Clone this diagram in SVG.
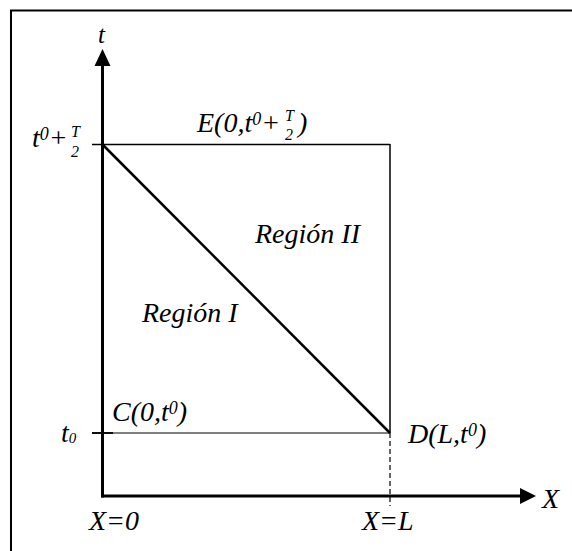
<svg xmlns="http://www.w3.org/2000/svg" width="572" height="551" viewBox="0 0 572 551">
<style>
text{font-family:"Liberation Serif","Times New Roman",serif;font-style:italic;fill:#000;font-size:28px}
.sm{font-size:18px}
.frac{font-size:16px}
line,path{stroke:#000;fill:none}
</style>
<rect x="0" y="0" width="572" height="551" fill="#fff"/>
<g id="frame"><path d="M11,551 V10.5 H572" stroke-width="2"/></g>
<g id="connectors">
<line x1="102.5" y1="497.5" x2="102.5" y2="64" stroke-width="3"/>
<polygon points="94.5,66 110.5,66 102.5,49" fill="#000"/>
<line x1="101" y1="496" x2="521" y2="496" stroke-width="3"/>
<polygon points="520,488 520,504 536,496" fill="#000"/>
<line x1="92" y1="144.5" x2="390" y2="144.5" stroke-width="1.5"/>
<line x1="390" y1="144" x2="390" y2="433" stroke-width="1.5"/>
<line x1="390" y1="433" x2="390" y2="506" stroke-width="1.2" stroke-dasharray="5,3"/>
<line x1="92" y1="433" x2="390" y2="433" stroke-width="1.2" stroke="#444"/>
<line x1="92" y1="433" x2="113" y2="433" stroke-width="1.8"/>
<line x1="102" y1="144" x2="390" y2="433" stroke-width="2.5"/>
</g>
<g id="label-t"><text x="98" y="43" style="font-size:25px">t</text></g>
<g id="label-tT"><text x="32" y="147">t<tspan class="sm" dy="-7">0</tspan><tspan dy="7">+</tspan></text><text class="frac" x="71" y="137">T</text><text class="frac" x="71" y="157">2</text></g>
<g id="label-E"><text x="197" y="132">E(0,t<tspan class="sm" dy="-7">0</tspan><tspan dy="7">+</tspan></text><text class="frac" x="285" y="121">T</text><text class="frac" x="285" y="140">2</text><text x="298" y="132">)</text></g>
<g id="label-r2"><text x="255" y="243">Región II</text></g>
<g id="label-r1"><text x="142" y="322">Región I</text></g>
<g id="label-C"><text x="112" y="421">C(0,t<tspan class="sm" dy="-7">0</tspan><tspan dy="7">)</tspan></text></g>
<g id="label-t0"><text x="61" y="442">t<tspan class="sm" dy="1" style="font-size:15px">0</tspan></text></g>
<g id="label-D"><text x="408" y="443">D(L,t<tspan class="sm" dy="-7">0</tspan><tspan dy="7">)</tspan></text></g>
<g id="label-X0"><text x="89" y="530">X=0</text></g>
<g id="label-XL"><text x="362" y="530">X=L</text></g>
<g id="label-X"><text x="542" y="508">X</text></g>
</svg>
